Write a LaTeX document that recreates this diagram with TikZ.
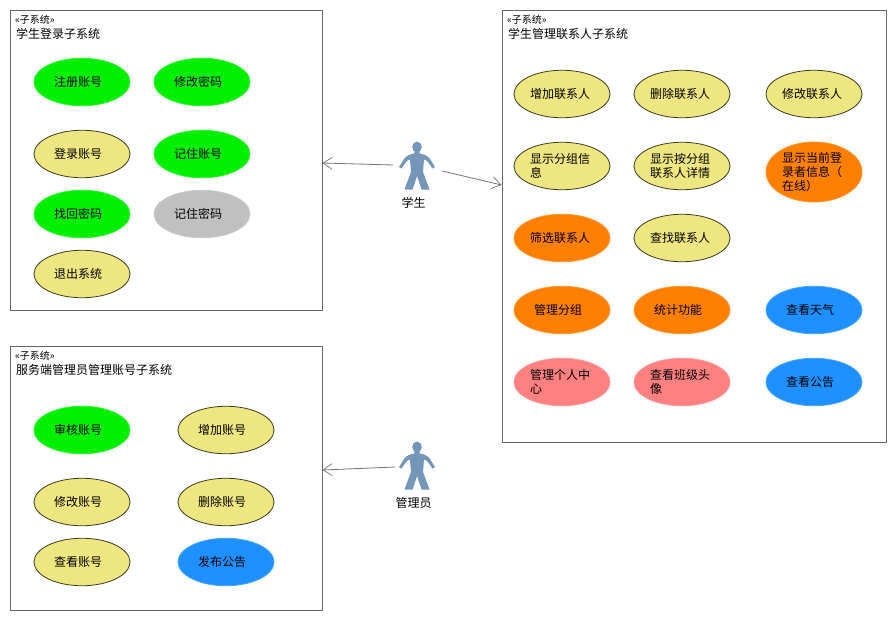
\documentclass[tikz,border=0pt]{standalone}
\usepackage{fontspec}
\setmainfont{Noto Sans CJK SC}
\usetikzlibrary{shapes.geometric,arrows.meta}
\definecolor{ucyellow}{HTML}{EEE680}
\definecolor{ucgreen}{HTML}{00F000}
\definecolor{ucorange}{HTML}{FF8000}
\definecolor{ucblue}{HTML}{1E90FF}
\definecolor{ucpink}{HTML}{FF8080}
\definecolor{ucgray}{HTML}{C0C0C0}
\definecolor{framegray}{HTML}{666666}
\definecolor{actorblue}{HTML}{7496B8}
\newcommand{\four}[1]{\mbox{#1\hspace{8pt}}}
\newcommand{\five}[1]{\mbox{#1\hspace{4pt}}}
\tikzset{
  uc/.style={ellipse,minimum width=96pt,minimum height=47.5pt,inner sep=-14pt,align=left,font=\fontsize{12}{14}\selectfont,text=black},
  ucY/.style={uc,fill=ucyellow,draw=black!75!ucyellow,line width=.8pt},
  ucG/.style={uc,fill=ucgreen,draw=ucgreen!85!white,line width=.8pt},
  ucO/.style={uc,fill=ucorange,draw=ucorange!85!white,line width=.8pt},
  ucB/.style={uc,fill=ucblue,draw=ucblue!85!white,line width=.8pt},
  ucP/.style={uc,fill=ucpink,draw=ucpink!85!white,line width=.8pt},
  ucH/.style={uc,fill=ucgray,draw=ucgray!85!white,line width=.8pt},
  sysbox/.style={rectangle,draw=framegray,fill=white,line width=1pt,inner sep=0pt},
  stereo/.style={anchor=west,inner sep=0pt,font=\fontsize{10}{11}\selectfont},
  systitle/.style={anchor=west,inner sep=0pt,font=\fontsize{12}{14}\selectfont},
  actorname/.style={inner sep=0pt,font=\fontsize{12}{14}\selectfont},
  actorslot/.style={rectangle,inner sep=0pt,minimum width=48pt,minimum height=48pt},
  assoc/.style={draw=black!55,line width=.8pt,-{Straight Barb[length=9pt,width=12pt,line width=.7pt]}},
}
\newcommand{\actorshape}[2]{%
  \begin{scope}[shift={(#1,#2)}]
    \fill[actorblue] (0,0) circle[x radius=4.8,y radius=5.4];
    \fill[actorblue,line join=round]
      (-2.6,4) -- (-2.6,6.5)
      .. controls (-6,7) and (-10,8) .. (-13,12)
      -- (-18,20) -- (-15.5,21.5) -- (-11,15)
      .. controls (-10,13.5) and (-8.5,13) .. (-7,12.5)
      -- (-6,25) -- (-12,41) -- (-12.5,42.5) -- (-4.5,42.5)
      -- (0,29) -- (4.5,42.5) -- (12.5,42.5) -- (12,41) -- (6,25)
      -- (7,12.5)
      .. controls (8.5,13) and (10,13.5) .. (11,15)
      -- (15.5,21.5) -- (18,20) -- (13,12)
      .. controls (10,8) and (6,7) .. (2.6,6.5)
      -- (2.6,4) -- cycle;
  \end{scope}}
\begin{document}
\begin{tikzpicture}[x=1pt,y=-1pt]
\useasboundingbox (0,0) rectangle (895,619);
\fill[white] (0,0) rectangle (895,619);
% boxes
\node[sysbox,minimum width=312pt,minimum height=300pt] (login) at (166,160) {};
\node[sysbox,minimum width=312pt,minimum height=264pt] (admin) at (166,478) {};
\node[sysbox,minimum width=384pt,minimum height=432pt] (manage) at (694,226) {};
\node[stereo] (s1) at (15,19.5) {«子系统»};
\node[systitle] (t1) at (16,33.5) {学生登录子系统};
\node[stereo] (s2) at (15,355.5) {«子系统»};
\node[systitle] (t2) at (16,369.5) {服务端管理员管理账号子系统};
\node[stereo] (s3) at (507,19.5) {«子系统»};
\node[systitle] (t3) at (508,33.5) {学生管理联系人子系统};
% login
\node[ucG] (a1) at (82,82) {\four{注册账号}};
\node[ucG] (a2) at (202,82) {\four{修改密码}};
\node[ucY] (a3) at (82,154) {\four{登录账号}};
\node[ucG] (a4) at (202,154) {\four{记住账号}};
\node[ucG] (a5) at (82,214) {\four{找回密码}};
\node[ucH] (a6) at (202,214) {\four{记住密码}};
\node[ucY] (a7) at (82,274) {\four{退出系统}};
% admin
\node[ucG] (b1) at (82,430) {\four{审核账号}};
\node[ucY] (b2) at (226,430) {\four{增加账号}};
\node[ucY] (b3) at (82,502) {\four{修改账号}};
\node[ucY] (b4) at (226,502) {\four{删除账号}};
\node[ucY] (b5) at (82,562) {\four{查看账号}};
\node[ucB] (b6) at (226,562) {\four{发布公告}};
% manage
\node[ucY] (c1) at (562,94) {\five{增加联系人}};
\node[ucY] (c2) at (682,94) {\five{删除联系人}};
\node[ucY] (c3) at (814,94) {\five{修改联系人}};
\node[ucY] (c4) at (562,166) {\five{显示分组信}\\息};
\node[ucY] (c5) at (682,166) {\five{显示按分组}\\联系人详情};
\node[ucO,minimum height=60pt] (c6) at (814,172) {\five{显示当前登}\\录者信息（\\在线）};
\node[ucO] (c7) at (562,238) {\five{筛选联系人}};
\node[ucY] (c8) at (682,238) {\five{查找联系人}};
\node[ucO] (c9) at (562,310) {\four{管理分组}};
\node[ucO] (c10) at (682,310) {\four{统计功能}};
\node[ucB] (c11) at (814,310) {\four{查看天气}};
\node[ucP] (c12) at (562,382) {\five{管理个人中}\\心};
\node[ucP] (c13) at (682,382) {\five{查看班级头}\\像};
\node[ucB] (c14) at (814,382) {\four{查看公告}};
% actors
\actorshape{417}{147}
\actorshape{417}{447}
\node[actorslot] (stu) at (417,167) {};
\node[actorslot] (mgr) at (419,467) {};
\node[actorname] (stulabel) at (413.5,203) {学生};
\node[actorname] (mgrlabel) at (413.5,503) {管理员};
% connectors
\coordinate (loginend) at (login.east |- 0,163);
\coordinate (adminend) at (admin.east |- 0,470);
\coordinate (manageend) at (manage.west |- 0,185);
\draw[assoc] ([yshift=2pt]stu.west) -- (loginend);
\draw[assoc] ([yshift=-4pt,xshift=1pt]stu.east) -- (manageend);
\draw[assoc] (mgr.west) -- (adminend);
\end{tikzpicture}
\end{document}
